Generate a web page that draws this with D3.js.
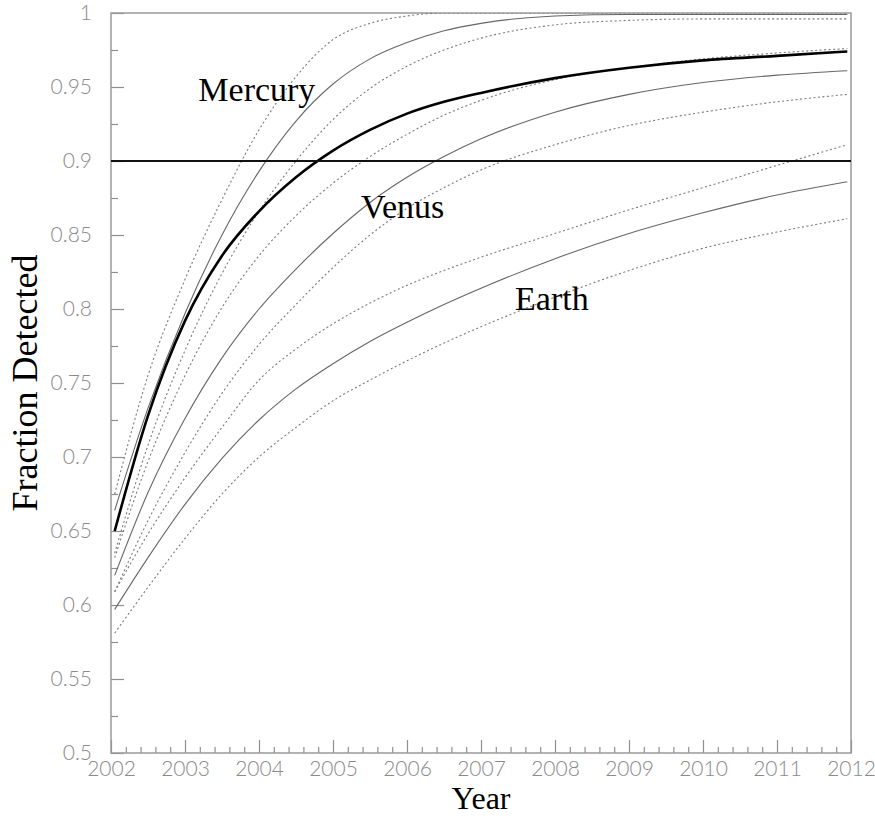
<!DOCTYPE html>
<html>
<head>
<meta charset="utf-8">
<script src="https://cdn.jsdelivr.net/npm/d3@7"></script>
<style>
  html, body { margin: 0; padding: 0; background: #fff; }
  svg { display: block; }
  .tick text { font-family: "Lato", "DejaVu Sans", sans-serif; font-weight: 300; fill: #8a8a8a; }
  .serif { font-family: "Liberation Serif", "Times New Roman", serif; fill: #000; }
</style>
</head>
<body>
<svg id="chart" width="875" height="816"></svg>
<script>
// sample years
var years = [2002.05, 2002.5, 2003, 2003.5, 2004, 2004.5, 2005, 2005.5, 2006, 2006.5, 2007, 2008, 2009, 2010, 2011, 2011.95];

// fraction detected, one list per curve
var overall   = [0.650, 0.728, 0.792, 0.836, 0.866, 0.889, 0.907, 0.921, 0.932, 0.940, 0.946, 0.956, 0.963, 0.968, 0.971, 0.974];
var mercury   = [0.664, 0.733, 0.797, 0.850, 0.893, 0.927, 0.952, 0.969, 0.980, 0.988, 0.993, 0.998, 0.999, 0.999, 0.999, 0.999];
var mercuryHi = [0.675, 0.755, 0.820, 0.874, 0.921, 0.957, 0.982, 0.993, 0.998, 1.000, 1.000, 1.000, 1.000, 1.000, 1.000, 1.000];
var mercuryLo = [0.635, 0.708, 0.772, 0.824, 0.866, 0.900, 0.928, 0.949, 0.964, 0.975, 0.983, 0.992, 0.995, 0.996, 0.996, 0.996];
var venus     = [0.620, 0.676, 0.726, 0.767, 0.800, 0.827, 0.851, 0.872, 0.889, 0.903, 0.915, 0.933, 0.945, 0.953, 0.958, 0.961];
var venusHi   = [0.632, 0.697, 0.755, 0.801, 0.836, 0.863, 0.885, 0.903, 0.918, 0.931, 0.941, 0.955, 0.963, 0.969, 0.973, 0.976];
var venusLo   = [0.609, 0.657, 0.703, 0.743, 0.776, 0.803, 0.828, 0.850, 0.868, 0.882, 0.894, 0.911, 0.924, 0.933, 0.940, 0.945];
var earth     = [0.597, 0.632, 0.668, 0.699, 0.725, 0.746, 0.763, 0.778, 0.791, 0.803, 0.814, 0.834, 0.851, 0.865, 0.877, 0.886];
var earthHi   = [0.609, 0.648, 0.686, 0.720, 0.752, 0.773, 0.790, 0.804, 0.816, 0.826, 0.835, 0.851, 0.867, 0.882, 0.897, 0.911];
var earthLo   = [0.581, 0.612, 0.645, 0.675, 0.700, 0.720, 0.738, 0.752, 0.765, 0.777, 0.788, 0.808, 0.826, 0.841, 0.852, 0.861];

var threshold = 0.9;

var xTicks = [2002, 2003, 2004, 2005, 2006, 2007, 2008, 2009, 2010, 2011, 2012];
var yTicks = [0.5, 0.55, 0.6, 0.65, 0.7, 0.75, 0.8, 0.85, 0.9, 0.95, 1];
var yTickLabels = ["0.5", "0.55", "0.6", "0.65", "0.7", "0.75", "0.8", "0.85", "0.9", "0.95", "1"];

var planetNames = ["Mercury", "Venus", "Earth"];
var planetLabelAt = [[2003.18, 0.9405], [2005.38, 0.8615], [2007.46, 0.7995]];

var margin = { top: 13, right: 24, bottom: 63, left: 111 };
var width = 875 - margin.left - margin.right;
var height = 816 - margin.top - margin.bottom;

var svg = d3.select("#chart");
var g = svg.append("g").attr("transform", "translate(" + margin.left + "," + margin.top + ")");

var x = d3.scaleLinear().domain([2002, 2012]).range([0, width]);
var y = d3.scaleLinear().domain([0.5, 1]).range([height, 0]);

// minor ticks first, so the major ones sit on top
var minorX = d3.range(2002, 2012.001, 0.2).filter(function (d) { return Math.abs(d - Math.round(d)) > 0.01; });
var minorY = d3.range(0.525, 1, 0.05);

g.append("g").attr("transform", "translate(0," + height + ")")
  .call(d3.axisBottom(x).tickValues(minorX).tickSize(-6).tickFormat(""))
  .call(function (a) { a.select(".domain").remove(); });
g.append("g")
  .call(d3.axisLeft(y).tickValues(minorY).tickSize(-7).tickFormat(""))
  .call(function (a) { a.select(".domain").remove(); });

var xAxis = g.append("g").attr("transform", "translate(0," + height + ")")
  .call(d3.axisBottom(x).tickValues(xTicks).tickSize(-13).tickPadding(8).tickFormat(d3.format("d")));
xAxis.select(".domain").remove();

var yAxis = g.append("g")
  .call(d3.axisLeft(y).tickValues(yTicks).tickSize(-13).tickPadding(19)
    .tickFormat(function (d, i) { return yTickLabels[i]; }));
yAxis.select(".domain").remove();

g.selectAll(".tick line").attr("stroke", "#8f8f8f").attr("stroke-width", 1.2);
g.selectAll(".tick text").style("font-size", "21px");

// frame
g.append("rect").attr("width", width).attr("height", height)
  .attr("fill", "none").attr("stroke", "#9a9a9a").attr("stroke-width", 1.5);

g.append("clipPath").attr("id", "plot-clip")
  .append("rect").attr("width", width).attr("height", height);

var line = d3.line()
  .x(function (d, i) { return x(years[i]); })
  .y(function (d) { return y(d); })
  .curve(d3.curveMonotoneX);

var curves = g.append("g").attr("clip-path", "url(#plot-clip)");

var dotted = [mercuryHi, mercuryLo, venusHi, venusLo, earthHi, earthLo];
var solid = [mercury, venus, earth];

curves.selectAll("path.dotted").data(dotted).enter().append("path")
  .attr("class", "dotted")
  .attr("d", line)
  .attr("fill", "none")
  .attr("stroke", "#7a7a7a")
  .attr("stroke-width", 1.1)
  .attr("stroke-dasharray", "2,2.5");

curves.selectAll("path.solid").data(solid).enter().append("path")
  .attr("class", "solid")
  .attr("d", line)
  .attr("fill", "none")
  .attr("stroke", "#666")
  .attr("stroke-width", 1.1);

// threshold line
g.append("line")
  .attr("x1", 0).attr("x2", width)
  .attr("y1", y(threshold)).attr("y2", y(threshold))
  .attr("stroke", "#111").attr("stroke-width", 2);

curves.append("path")
  .datum(overall)
  .attr("d", line)
  .attr("fill", "none")
  .attr("stroke", "#000")
  .attr("stroke-width", 2.6);

// planet labels
g.selectAll("text.planet").data(planetNames).enter().append("text")
  .attr("class", "serif planet")
  .attr("x", function (d, i) { return x(planetLabelAt[i][0]); })
  .attr("y", function (d, i) { return y(planetLabelAt[i][1]); })
  .style("font-size", "34px")
  .text(function (d) { return d; });

// axis titles
svg.append("text").attr("class", "serif")
  .attr("x", margin.left + width / 2).attr("y", 809)
  .attr("text-anchor", "middle")
  .style("font-size", "32px")
  .text("Year");

svg.append("text").attr("class", "serif")
  .attr("transform", "translate(37," + (margin.top + height / 2) + ") rotate(-90)")
  .attr("text-anchor", "middle")
  .style("font-size", "36px")
  .text("Fraction Detected");
</script>
</body>
</html>
